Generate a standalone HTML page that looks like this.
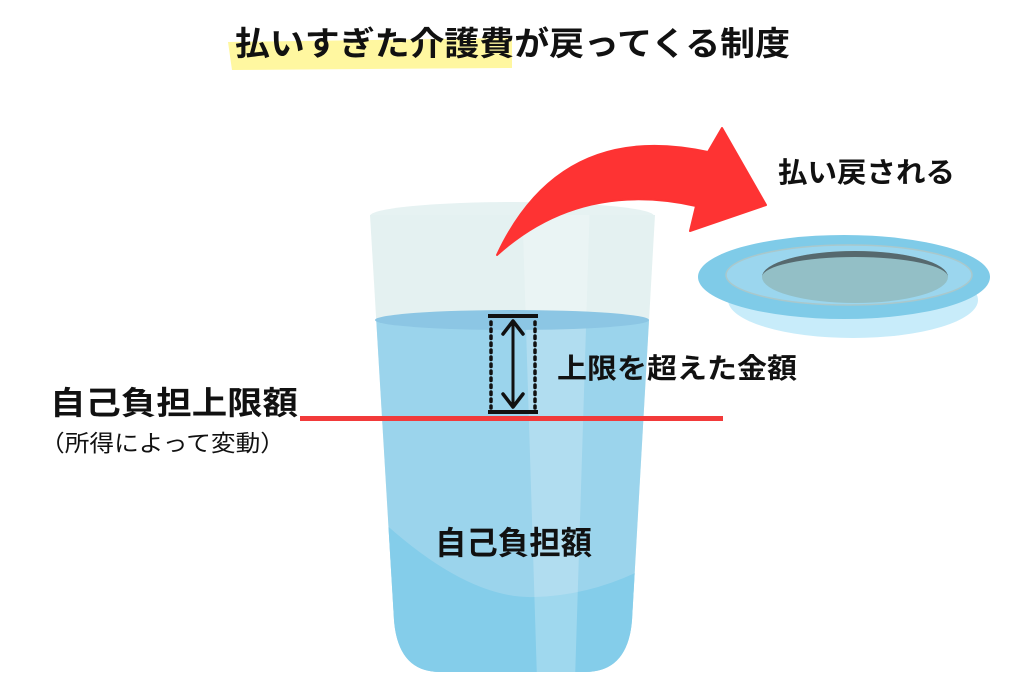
<!DOCTYPE html>
<html><head><meta charset="utf-8"><style>
body{margin:0;background:#fff;width:1025px;height:683px;overflow:hidden;font-family:"Liberation Sans","Noto Sans CJK JP",sans-serif}
svg{position:absolute;left:0;top:0}
text{font-family:"Liberation Sans","Noto Sans CJK JP",sans-serif}
</style></head><body>
<svg width="1025" height="683" viewBox="0 0 1025 683">
<defs>
<clipPath id="g"><path d="M370 215 L655 215 L632 620 Q628 672 585 672 L440 672 Q398 672 394 620 Z"/></clipPath>
</defs>
<path d="M228 42 L512 38 L512 68 L232 70 Z" fill="#fff7a0"/>
<text x="235" y="55" font-size="33" font-weight="bold" fill="#111" textLength="555" lengthAdjust="spacingAndGlyphs">払いすぎた介護費が戻ってくる制度</text>
<ellipse cx="512" cy="216" rx="142" ry="14" fill="#e6f2f2"/>
<g clip-path="url(#g)">
<rect x="360" y="200" width="310" height="480" fill="#e4f1f1"/>
<rect x="360" y="320" width="310" height="360" fill="#9bd4ec"/>
<path d="M360 500 Q460 600 535 597 Q600 595 660 560 L660 690 L360 690 Z" fill="#84cdea"/>
<path d="M522 200 L590 200 L575 680 L537 680 Z" fill="#ffffff" opacity="0.22"/>
</g>
<ellipse cx="512" cy="320" rx="137" ry="10" fill="#8cc6e4"/>
<line x1="488" y1="316" x2="538" y2="316" stroke="#111" stroke-width="4"/>
<line x1="488" y1="412" x2="538" y2="412" stroke="#111" stroke-width="4"/>
<line x1="491" y1="322" x2="491" y2="408" stroke="#111" stroke-width="3.5" stroke-dasharray="2.5 4.5" stroke-linecap="round"/>
<line x1="535" y1="322" x2="535" y2="408" stroke="#111" stroke-width="3.5" stroke-dasharray="2.5 4.5" stroke-linecap="round"/>
<line x1="513" y1="322" x2="513" y2="406" stroke="#111" stroke-width="3"/>
<path d="M503 334 L513 321 L523 334" fill="none" stroke="#111" stroke-width="3.5" stroke-linecap="round" stroke-linejoin="round"/>
<path d="M503 394 L513 407 L523 394" fill="none" stroke="#111" stroke-width="3.5" stroke-linecap="round" stroke-linejoin="round"/>
<rect x="300" y="416" width="423" height="5" fill="#f23a3a"/>
<path d="M497 255 Q560 120 708 152 L722 128 L766 205 L690 231 L696 206 Q580 180 497 255 Z" fill="#fe3333" stroke="#fe3333" stroke-width="2" stroke-linejoin="round"/>
<ellipse cx="853" cy="300" rx="125" ry="38" fill="#c8ecfa"/>
<ellipse cx="844" cy="277" rx="146" ry="42" fill="#7fcbe8"/>
<ellipse cx="849" cy="275" rx="123" ry="30" fill="#9bd6ee" stroke="#a9c8cc" stroke-width="1.5"/>
<ellipse cx="855" cy="277" rx="93" ry="26" fill="#93bfc6"/>
<path d="M762 277 A93 26 0 0 1 948 277 A93 20 0 0 0 762 277 Z" fill="#56696e"/>
<text x="778" y="182" font-size="28" font-weight="bold" fill="#111" textLength="177" lengthAdjust="spacingAndGlyphs">払い戻される</text>
<text x="557" y="378" font-size="28" font-weight="bold" fill="#111" textLength="240" lengthAdjust="spacingAndGlyphs">上限を超えた金額</text>
<text x="50" y="414" font-size="32" font-weight="bold" fill="#111" textLength="248" lengthAdjust="spacingAndGlyphs">自己負担上限額</text>
<text x="40" y="451" font-size="23" fill="#111" textLength="245" lengthAdjust="spacingAndGlyphs">（所得によって変動）</text>
<text x="435" y="554" font-size="32" font-weight="bold" fill="#111" textLength="157" lengthAdjust="spacingAndGlyphs">自己負担額</text>
</svg>
</body></html>
